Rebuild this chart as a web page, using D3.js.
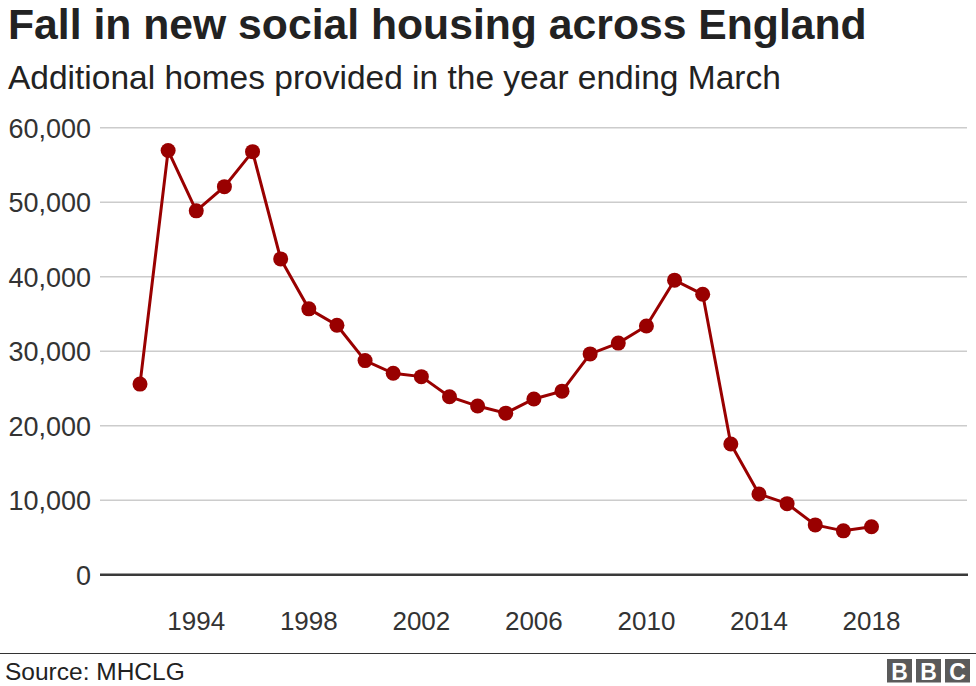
<!DOCTYPE html>
<html>
<head>
<meta charset="utf-8">
<script src="https://cdnjs.cloudflare.com/ajax/libs/d3/7.8.5/d3.min.js"></script>
<style>
  body { margin: 0; background: #fff; }
  text { font-family: "Liberation Sans", Arial, Helvetica, sans-serif; }
</style>
</head>
<body>
<script>
// data
var years = [1992, 1993, 1994, 1995, 1996, 1997, 1998, 1999, 2000, 2001, 2002, 2003, 2004,
             2005, 2006, 2007, 2008, 2009, 2010, 2011, 2012, 2013, 2014, 2015, 2016, 2017, 2018]
var homes = [25600, 56950, 48850, 52100, 56800, 42400, 35700, 33500, 28750, 27050, 26600, 23900, 22650,
             21700, 23600, 24650, 29650, 31100, 33400, 39550, 37650, 17550, 10850, 9550, 6700, 5900, 6450]
var yTicks = [0, 10000, 20000, 30000, 40000, 50000, 60000]
var xTicks = [1994, 1998, 2002, 2006, 2010, 2014, 2018]

var width = 976, height = 686
var svg = d3.select("body")
  .append("svg")
  .attr("width", width)
  .attr("height", height)

// titles
svg.append("text")
  .attr("x", 8).attr("y", 39)
  .style("font-size", "42.7px").style("font-weight", "bold")
  .attr("fill", "#222")
  .text("Fall in new social housing across England")

svg.append("text")
  .attr("x", 8).attr("y", 89)
  .style("font-size", "33.5px")
  .attr("fill", "#222")
  .text("Additional homes provided in the year ending March")

// scales
var x = d3.scaleLinear()
  .domain([1992, 2018])
  .range([140, 871.5])

var y = d3.scaleLinear()
  .domain([0, 60000])
  .range([574.8, 127.8])

// grid lines + y labels
svg.selectAll("gridlines")
  .data(yTicks.filter(function(d){ return d > 0 }))
  .enter()
  .append("line")
    .attr("x1", 100).attr("x2", 967)
    .attr("y1", function(d){ return y(d) })
    .attr("y2", function(d){ return y(d) })
    .attr("stroke", "#cccccc")
    .attr("stroke-width", 1.5)

svg.selectAll("ylabels")
  .data(yTicks)
  .enter()
  .append("text")
    .attr("x", 91)
    .attr("y", function(d){ return y(d) + 10 })
    .style("text-anchor", "end")
    .style("font-size", "27px")
    .attr("fill", "#333")
    .text(function(d){ return d3.format(",")(d) })

// zero axis line
svg.append("line")
  .attr("x1", 100).attr("x2", 968)
  .attr("y1", y(0)).attr("y2", y(0))
  .attr("stroke", "#3a3a3a")
  .attr("stroke-width", 2.5)

// x labels
svg.selectAll("xlabels")
  .data(xTicks)
  .enter()
  .append("text")
    .attr("x", function(d){ return x(d) })
    .attr("y", 630)
    .style("text-anchor", "middle")
    .style("font-size", "26px")
    .attr("fill", "#333")
    .text(function(d){ return d })

// the line
var points = years.map(function(yr, i){ return {year: yr, value: homes[i]} })

svg.append("path")
  .datum(points)
  .attr("fill", "none")
  .attr("stroke", "#990000")
  .attr("stroke-width", 3)
  .attr("d", d3.line()
    .x(function(d){ return x(d.year) })
    .y(function(d){ return y(d.value) }))

svg.selectAll("mypoints")
  .data(points)
  .enter()
  .append("circle")
    .attr("cx", function(d){ return x(d.year) })
    .attr("cy", function(d){ return y(d.value) })
    .attr("r", 7.5)
    .attr("fill", "#990000")

// footer
svg.append("line")
  .attr("x1", 0).attr("x2", width)
  .attr("y1", 653.5).attr("y2", 653.5)
  .attr("stroke", "#333")
  .attr("stroke-width", 1.2)

svg.append("text")
  .attr("x", 5).attr("y", 680)
  .style("font-size", "24.5px")
  .attr("fill", "#222")
  .text("Source: MHCLG")

// BBC blocks
var bbc = svg.selectAll("bbc")
  .data(["B", "B", "C"])
  .enter()
  .append("g")
    .attr("transform", function(d, i){ return "translate(" + (887 + i * 29) + ",659)" })
bbc.append("rect")
  .attr("width", 25).attr("height", 23.5)
  .attr("fill", "#5a5a5a")
bbc.append("text")
  .attr("x", 12.5).attr("y", 20.5)
  .style("text-anchor", "middle")
  .style("font-size", "23px").style("font-weight", "bold")
  .attr("fill", "#fff")
  .text(function(d){ return d })
</script>
</body>
</html>
